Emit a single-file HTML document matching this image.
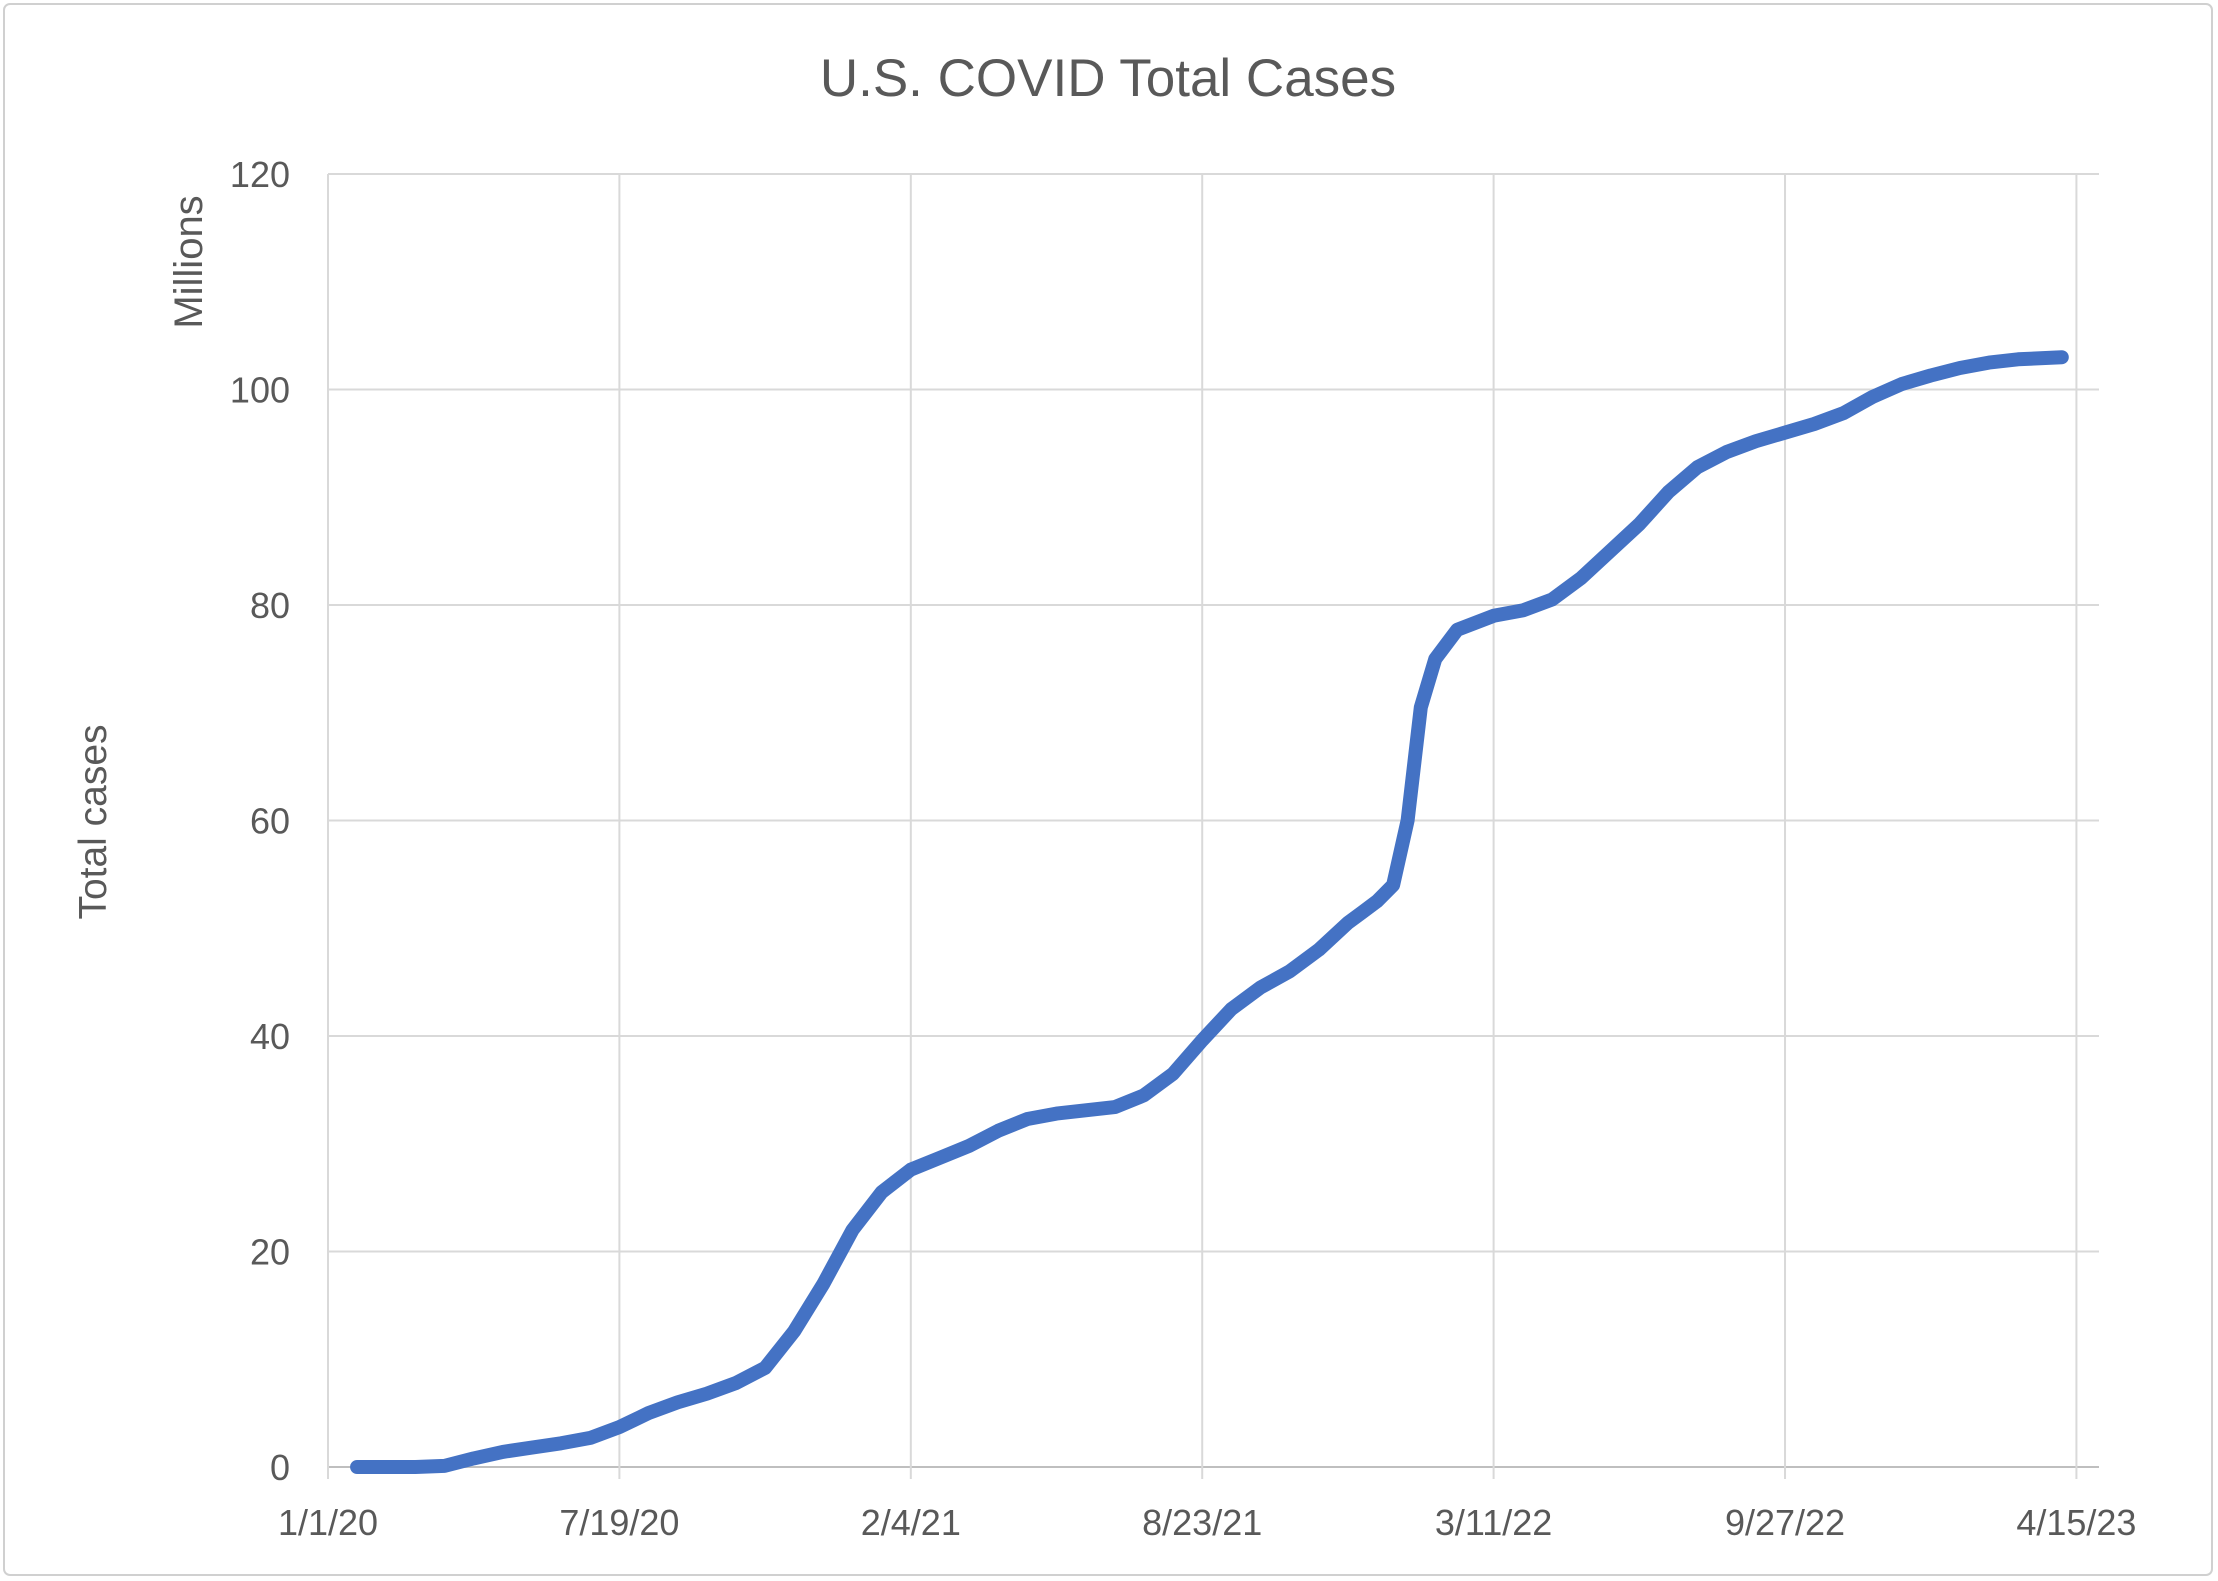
<!DOCTYPE html>
<html><head><meta charset="utf-8">
<style>
html,body{margin:0;padding:0;background:#fff;}
svg{display:block;font-family:"Liberation Sans",sans-serif;}
</style></head>
<body>
<svg id="chart" width="2218" height="1581" viewBox="0 0 2218 1581" xmlns="http://www.w3.org/2000/svg">
<rect x="4" y="4" width="2208" height="1571" rx="6" fill="#fff" stroke="#d0d0d0" stroke-width="2"/>
<text x="1108" y="96" text-anchor="middle" font-size="53" fill="#595959">U.S. COVID Total Cases</text>
<text transform="translate(106,822) rotate(-90)" text-anchor="middle" font-size="39" fill="#595959">Total cases</text>
<text transform="translate(202,262) rotate(-90)" text-anchor="middle" font-size="40" fill="#595959">Millions</text>
<g id="grid"></g>
<g id="axes"></g>
<g id="series"></g>
</svg>
<script>
const yTicks=[0,20,40,60,80,100,120];
const xTickDays=[0,200,400,600,800,1000,1200];
const xTickLabels=["1/1/20","7/19/20","2/4/21","8/23/21","3/11/22","9/27/22","4/15/23"];
const days=[20,40,60,80,100,120,140,160,180,200,220,240,260,280,300,320,340,360,380,400,420,440,460,480,500,520,540,560,580,600,620,640,660,680,700,710,720,731,741,750,760,775,800,820,840,860,880,900,920,940,960,980,1000,1020,1040,1060,1080,1100,1120,1140,1160,1190];
const cases=[0,0,0,0.1,0.8,1.4,1.8,2.2,2.7,3.7,5.0,6.0,6.8,7.8,9.2,12.6,17,22,25.5,27.6,28.7,29.8,31.2,32.3,32.8,33.1,33.4,34.5,36.5,39.6,42.5,44.5,46,48,50.5,51.5,52.5,54,60,70.5,75,77.7,79,79.5,80.5,82.5,85,87.5,90.5,92.8,94.2,95.2,96,96.8,97.8,99.3,100.5,101.3,102,102.5,102.8,103];
const L=328,R=2099,T=174,B=1467,DMAX=1215.5;
const xs=d=>L+(R-L)*d/DMAX;
const ys=v=>B-(B-T)*v/120;
const NS="http://www.w3.org/2000/svg";
function mk(tag,attrs,parent){const e=document.createElementNS(NS,tag);for(const k in attrs)e.setAttribute(k,attrs[k]);parent.appendChild(e);return e;}
const grid=document.getElementById('grid'),axes=document.getElementById('axes'),series=document.getElementById('series');
yTicks.forEach(v=>{
 const g=mk('line',{x1:L,x2:R,y1:ys(v),y2:ys(v),stroke:v===0?'#bfbfbf':'#d9d9d9','stroke-width':2},grid);
 
 
 const t=mk('text',{x:290,y:ys(v)+13,'text-anchor':'end','font-size':36,fill:'#595959'},axes);
 t.textContent=v;
 
 
});
xTickDays.forEach((d,i)=>{
 const g=mk('line',{x1:xs(d),x2:xs(d),y1:T,y2:B+12,stroke:'#d9d9d9','stroke-width':2},grid);
 
 
 const t=mk('text',{x:xs(d),y:1535,'text-anchor':'middle','font-size':36,fill:'#595959'},axes);
 t.textContent=xTickLabels[i];
 
 
});
const pts=days.map((d,i)=>xs(d).toFixed(1)+','+ys(cases[i]).toFixed(1)).join(' ');
const line=mk('polyline',{points:pts,fill:'none',stroke:'#4472c4','stroke-width':14,'stroke-linejoin':'round','stroke-linecap':'round'},series);


</script>
</body></html>
